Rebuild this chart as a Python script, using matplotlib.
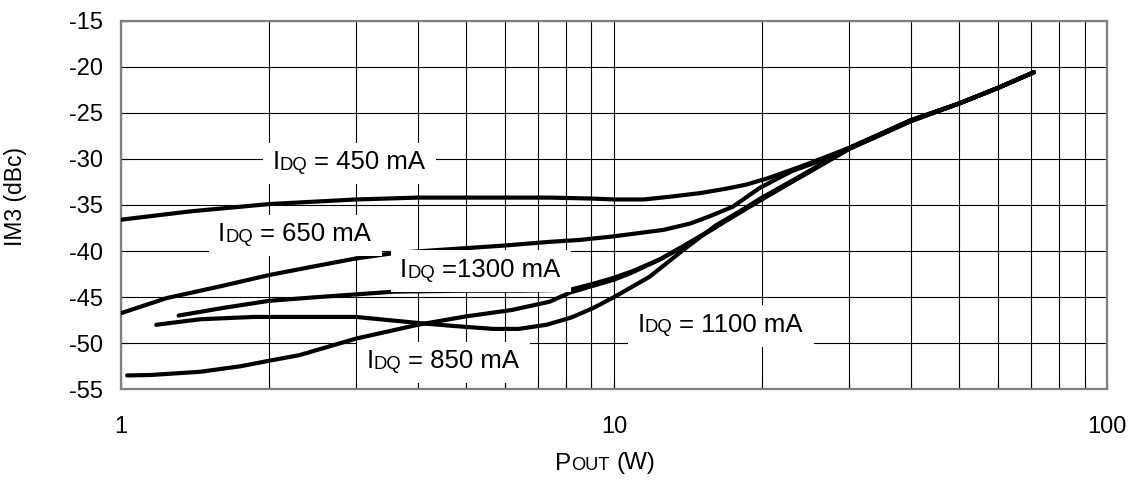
#!/usr/bin/env python3
import matplotlib
matplotlib.use("Agg")
import matplotlib.pyplot as plt
from matplotlib import transforms
from matplotlib.patches import Rectangle

plt.rcParams['font.family'] = ['Liberation Sans', 'DejaVu Sans']
plt.rcParams['axes.unicode_minus'] = False

# IM3 vs output power, one curve per quiescent current
pout_450 = [1.0, 1.38, 2.0, 3.0, 4.0, 5.5, 7.4, 9.0, 10.0, 11.5, 13.0, 15.0, 17.0, 18.5, 20.5, 24.0, 30.0, 35.0, 40.0, 50.0, 60.0, 71.0]
im3_450 = [-36.6, -35.7, -34.9, -34.4, -34.2, -34.2, -34.2, -34.3, -34.4, -34.4, -34.1, -33.7, -33.2, -32.8, -32.1, -30.8, -28.8, -27.2, -25.8, -24.0, -22.3, -20.6]

pout_650 = [1.0, 1.24, 1.6, 2.0, 2.5, 3.0, 3.6, 4.65, 6.0, 7.4, 8.5, 10.0, 12.6, 14.3, 15.5, 17.4, 19.8, 23.0, 25.6, 30.0, 35.0, 40.0, 50.0, 60.0, 71.0]
im3_650 = [-46.75, -45.1, -43.8, -42.6, -41.6, -40.8, -40.2, -39.8, -39.4, -39.0, -38.8, -38.4, -37.7, -37.0, -36.3, -35.2, -33.1, -31.3, -30.4, -28.8, -27.2, -25.8, -24.0, -22.3, -20.6]

pout_1300 = [1.31, 1.6, 2.0, 2.5, 3.0, 3.6, 5.0, 6.5, 8.15, 9.0, 10.0, 11.0, 12.5, 14.0, 16.0, 17.4, 19.8, 23.8, 30.0, 35.0, 40.0, 50.0, 60.0, 71.0]
im3_1300 = [-47.0, -46.2, -45.4, -45.0, -44.7, -44.4, -44.3, -44.3, -44.2, -43.6, -42.9, -42.1, -40.8, -39.3, -37.5, -36.2, -34.3, -31.9, -28.8, -27.2, -25.8, -24.0, -22.3, -20.6]

pout_850 = [1.03, 1.15, 1.45, 1.75, 2.0, 2.3, 3.0, 4.0, 5.0, 6.2, 7.4, 8.15, 10.0, 10.8, 12.3, 13.8, 15.5, 17.4, 19.8, 23.8, 30.0, 35.0, 40.0, 50.0, 60.0, 71.0]
im3_850 = [-53.5, -53.45, -53.1, -52.5, -51.9, -51.3, -49.5, -48.0, -47.1, -46.4, -45.5, -44.5, -43.1, -42.4, -41.0, -39.5, -37.9, -36.3, -34.5, -32.0, -28.9, -27.3, -25.9, -24.0, -22.3, -20.6]

pout_1100 = [1.18, 1.45, 1.86, 3.0, 4.0, 4.65, 5.7, 6.4, 7.3, 8.2, 9.06, 10.0, 11.8, 13.8, 16.1, 19.8, 23.8, 30.0, 35.0, 40.0, 50.0, 60.0, 71.0]
im3_1100 = [-48.0, -47.4, -47.15, -47.15, -47.8, -48.1, -48.45, -48.45, -48.0, -47.2, -46.2, -45.0, -42.8, -39.9, -37.2, -34.4, -32.0, -28.9, -27.3, -25.9, -24.0, -22.3, -20.6]

x_ticks = [1, 10, 100]
x_tick_labels = ['1', '10', '100']
x_minor = [2, 3, 4, 5, 6, 7, 8, 9, 20, 30, 40, 50, 60, 70, 80, 90]
y_ticks = [-55, -50, -45, -40, -35, -30, -25, -20, -15]
y_tick_labels = ['-55', '-50', '-45', '-40', '-35', '-30', '-25', '-20', '-15']

# curve labels: value part after "IDQ", and where the label sits (Pout, IM3 at baseline)
label_rest = ['= 450 mA', '= 650 mA', '=1300 mA', '= 850 mA', '= 1100 mA']
label_x = [2.9, 2.25, 5.35, 4.5, 16.4]
label_y = [-31.1, -38.9, -42.8, -52.7, -48.75]

DPI = 100
LABEL_FS = 18.5


def text_w(fig, r, s, size):
    t = fig.text(0, 0, s, fontsize=size)
    w = t.get_window_extent(r).width
    t.remove()
    return w


def advance(fig, r, s, size):
    return text_w(fig, r, '|' + s + '|', size) - text_w(fig, r, '||', size)


def rich_text(fig, x, y, parts, trans, size, box=None, zorder=5):
    """parts: (text, scale, spaces before, dy px); centred on x, baseline at y."""
    r = fig.canvas.get_renderer()
    space = advance(fig, r, ' ', size)
    pens = []
    pen = 0.0
    for s, scale, gap, dy in parts:
        pen += gap * space
        pens.append(pen)
        pen += advance(fig, r, s, size * scale)
    xd, yd = trans.transform((x, y))
    start = xd - pen / 2
    for (s, scale, gap, dy), p in zip(parts, pens):
        fig.text(start + p, yd + dy, s, fontsize=size * scale, ha='left', va='baseline',
                 transform=transforms.IdentityTransform(), zorder=zorder)
    if box is not None:
        cap = 0.716 * size * DPI / 72
        left, right, top, bottom = box
        fig.add_artist(Rectangle((start - left, yd - bottom), pen + left + right, cap + top + bottom,
                                 transform=transforms.IdentityTransform(), fc='white', ec='none',
                                 zorder=zorder - 1))


fig = plt.figure(figsize=(11.36, 4.8), dpi=DPI)
ax = fig.add_axes([0.1063, 0.189, 0.8684, 0.7679])

for px, iy in [(pout_450, im3_450), (pout_650, im3_650), (pout_1300, im3_1300),
               (pout_850, im3_850), (pout_1100, im3_1100)]:
    ax.plot(px, iy, color='black', lw=3.0, solid_capstyle='round', solid_joinstyle='round', zorder=3)

ax.set_xscale('log')
ax.set_xlim(1, 100)
ax.set_ylim(-55, -15)
ax.set_xticks(x_ticks)
ax.set_xticklabels(x_tick_labels)
ax.set_xticks(x_minor, minor=True)
ax.set_xticklabels([], minor=True)
ax.set_yticks(y_ticks)
ax.set_yticklabels(y_tick_labels)
ax.grid(True, which='both', color='black', lw=0.8, zorder=1)
ax.set_axisbelow(True)
ax.tick_params(which='both', direction='in', length=5, width=0.8, color='black')
ax.tick_params(axis='x', which='major', labelsize=17, pad=19)
ax.tick_params(axis='y', which='major', labelsize=17, pad=13)
for sp in ax.spines.values():
    sp.set_color('#808080')
    sp.set_linewidth(1.6)

for rest, lx, ly in zip(label_rest, label_x, label_y):
    rich_text(fig, lx, ly, [('I', 1.0, 0, 0), ('DQ', 0.72, 0, -0.7), (rest, 1.0, 1, 0)],
              ax.transData, LABEL_FS, box=(9, 11, 8, 15))

# axis titles
rich_text(fig, 605 / 1136, 1 - 469.5 / 480, [('P', 1.0, 0, 0), ('OUT', 0.75, 0, 0), ('(W)', 1.0, 1, 0)],
          fig.transFigure, 17.5)
fig.text(16 / 1136, 1 - 196 / 480, 'IM3 (dBc)', rotation=90, ha='center', va='center', fontsize=16.5)

fig.savefig('out.png', dpi=DPI)
